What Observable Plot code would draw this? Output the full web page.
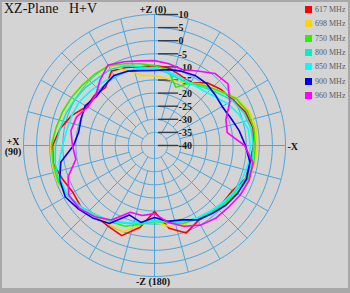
<!DOCTYPE html>
<html>
<head>
<meta charset="utf-8">
<script src="https://cdn.jsdelivr.net/npm/d3@7"></script>
<script src="https://cdn.jsdelivr.net/npm/@observablehq/plot@0.6"></script>
<style>
  html, body { margin: 0; padding: 0; background: #d4d4d4; }
  #wrap { position: relative; width: 350px; height: 293px; overflow: hidden; background: #d4d4d4; }
  #wrap svg { position: absolute; left: 0; top: 0; }
  #frame { position: absolute; left: 0; top: 0; width: 350px; height: 293px; box-sizing: border-box;
           border: 2px solid #a8a8a8; border-bottom-width: 5px; pointer-events: none; }
  #title { position: absolute; left: 4px; top: 1px; font: 14px "Liberation Serif", serif; color: #111; white-space: pre; }
  #legend { position: absolute; left: 305px; top: 6px; font: 8px "Liberation Serif", serif; color: #5c5c5c; }
  #legend .row { position: absolute; left: 0; height: 7px; white-space: nowrap; }
  #legend .sw { position: absolute; left: 0; top: 0; width: 7px; height: 7px; }
  #legend .lb { position: absolute; left: 10px; top: -1px; line-height: 9px; }
</style>
</head>
<body>
<div id="wrap">
  <div id="title">XZ-Plane   H+V</div>
  <div id="legend"></div>
  <div id="frame"></div>
</div>
<script>
// Measurement angles in degrees: 0 = +Z, 90 = +X, 180 = -Z, 270 = -X
const angles = d3.range(0, 360, 10);

// Gain (dB) per frequency, one value per angle
const gain617 = [-9.5, -9.5, -8.3, -7.2, -11.0, -10.2, -10.2, -6.4, -3.4, -1.1, -0.7, -2.6, -4.1, -3.4, -4.9, -4.5, -3.4, -8.3, -14.8, -7.9, -4.5, -6.8, -6.4, -6.0, -5.6, -3.0, -3.0, -2.2, -1.8, -3.0, -5.3, -6.8, -8.7, -12.5, -11.4, -9.8];
const gain698 = [-13.3, -12.9, -9.5, -4.9, -4.5, -4.1, -3.4, -2.6, -1.8, -0.3, -0.3, -0.3, -1.5, -3.0, -4.9, -5.3, -4.9, -9.5, -11.0, -8.7, -7.9, -7.6, -6.4, -5.3, -3.7, -1.8, -1.1, -0.7, -0.7, -1.5, -3.7, -7.6, -9.8, -12.5, -14.0, -14.0];
const gain750 = [-9.5, -8.3, -6.8, -4.9, -4.5, -4.1, -3.4, -2.6, -1.8, -0.7, -0.7, -0.7, -1.8, -3.4, -5.3, -6.4, -7.2, -9.5, -11.0, -10.2, -8.3, -7.6, -6.4, -5.3, -3.7, -2.2, -1.5, -1.5, -1.5, -2.2, -4.1, -7.6, -10.2, -12.5, -16.3, -10.6];
const gain800 = [-10.6, -9.5, -7.6, -6.4, -6.4, -5.6, -4.9, -4.1, -3.4, -2.2, -1.5, -1.1, -1.8, -3.4, -5.3, -6.8, -8.3, -9.8, -11.0, -10.6, -9.1, -7.9, -6.8, -5.6, -4.5, -3.0, -2.2, -2.2, -2.6, -3.7, -5.6, -8.7, -11.0, -12.9, -12.9, -11.8];
const gain850 = [-10.6, -10.2, -9.8, -9.5, -8.7, -7.9, -6.8, -6.4, -6.0, -4.9, -3.0, -1.8, -1.8, -3.4, -4.9, -6.8, -8.7, -10.2, -11.4, -10.6, -9.1, -7.9, -7.2, -6.0, -4.9, -4.1, -3.4, -3.4, -3.7, -5.6, -7.9, -10.6, -12.1, -12.5, -12.1, -11.4];
const gain900 = [-11.4, -11.0, -9.8, -9.1, -10.2, -11.0, -9.5, -10.2, -10.6, -9.1, -3.7, -1.5, -0.7, -2.2, -3.7, -5.6, -11.8, -10.2, -12.5, -10.6, -9.8, -7.2, -6.0, -4.5, -3.4, -2.6, -3.0, -5.3, -7.2, -9.1, -10.2, -9.8, -9.1, -9.1, -9.8, -10.6];
const gain960 = [-7.6, -7.2, -6.0, -4.5, -7.6, -10.6, -10.6, -8.3, -7.6, -8.7, -9.5, -4.9, -2.2, -2.6, -4.5, -7.2, -12.9, -12.9, -14.0, -10.2, -7.2, -4.9, -3.7, -3.2, -2.2, -1.5, -1.8, -5.6, -11.8, -11.0, -6.8, -3.4, -4.1, -7.2, -9.1, -8.3];

const freqLabels = ["617 MHz", "698 MHz", "750 MHz", "800 MHz", "850 MHz", "900 MHz", "960 MHz"];
const freqColors = ["#ff0000", "#ffd400", "#2cf000", "#00f0c8", "#00ffff", "#0000e6", "#ff00ff"];
const gains = [gain617, gain698, gain750, gain800, gain850, gain900, gain960];

// Radial scale rings (dB) and their printed labels
const ringValues = [-35, -30, -25, -20, -15, -10, -5, 0, 5, 10];
const ringLabels = [10, 5, 0, -5, -10, -15, -20, -25, -30, -35, -40];
const spokeAngles = d3.range(0, 360, 15);
const axisLabels = [
  {text: "+Z (0)", angle: 0},
  {text: "+X\n(90)", angle: 90},
  {text: "-Z (180)", angle: 180},
  {text: "-X", angle: 270}
];

const floorDb = -40;   // gain at the centre of the plot
const topDb = 10;      // gain at the outer ring
const rad = a => a * Math.PI / 180;
const rOf = g => g - floorDb;
const px = (g, a) => -rOf(g) * Math.sin(rad(a));
const py = (g, a) => rOf(g) * Math.cos(rad(a));
const span = topDb - floorDb;

const rows = gains.flatMap((vals, k) =>
  vals.map((g, i) => ({freq: freqLabels[k], angle: angles[i], gain: g})));

const ringPts = ringValues.flatMap(v => d3.range(0, 360, 2).map(a => ({v, a})));

const grid = "#4ea4dc";

const chart = Plot.plot({
  width: 350,
  height: 293,
  margin: 0,
  x: {domain: [-span, span], range: [23, 285], axis: null},
  y: {domain: [-span, span], range: [276, 14], axis: null},
  color: {domain: freqLabels, range: freqColors},
  style: {background: "transparent", overflow: "visible"},
  marks: [
    // concentric rings
    Plot.line(ringPts, {
      x: d => px(d.v, d.a), y: d => py(d.v, d.a), z: "v",
      curve: "linear-closed", stroke: grid, strokeWidth: 1
    }),
    // angular spokes every 15 degrees
    Plot.link(spokeAngles, {
      x1: a => px(a % 90 === 0 ? floorDb : a % 30 === 0 ? -35 : -30, a),
      y1: a => py(a % 90 === 0 ? floorDb : a % 30 === 0 ? -35 : -30, a),
      x2: a => px(topDb, a), y2: a => py(topDb, a),
      stroke: grid, strokeWidth: 1
    }),
    // scale ticks along the +Z axis
    Plot.ruleY(ringLabels, {y: v => rOf(v), x1: 1.5, x2: 9.2, stroke: "#2c3e52", strokeWidth: 1.4}),
    Plot.text(ringLabels, {
      y: v => rOf(v), x: 9.2, text: v => String(v), textAnchor: "start", dx: 0, dy: 0.5,
      fontFamily: "Liberation Serif", fontSize: 10, fontWeight: "bold", fill: "#1a1a1a"
    }),
    // radiation patterns
    Plot.line(rows, {
      x: d => px(d.gain, d.angle), y: d => py(d.gain, d.angle),
      z: "freq", stroke: "freq", curve: "linear-closed", strokeWidth: 1.6
    }),
    // axis direction labels
    Plot.text(axisLabels, {
      filter: d => d.angle === 0,
      x: d => px(topDb, d.angle), y: d => py(topDb, d.angle), text: "text",
      dx: -1.5, dy: -5, fontFamily: "Liberation Serif", fontSize: 10, fontWeight: "bold", fill: "#111"
    }),
    Plot.text(axisLabels, {
      filter: d => d.angle === 180,
      x: d => px(topDb, d.angle), y: d => py(topDb, d.angle), text: "text",
      dx: -1.5, dy: 5, fontFamily: "Liberation Serif", fontSize: 10, fontWeight: "bold", fill: "#111"
    }),
    Plot.text(axisLabels, {
      filter: d => d.angle === 90,
      x: d => px(topDb, d.angle), y: d => py(topDb, d.angle), text: "text",
      dx: -10.5, dy: 1, lineHeight: 1.0, fontFamily: "Liberation Serif", fontSize: 10, fontWeight: "bold", fill: "#111"
    }),
    Plot.text(axisLabels, {
      filter: d => d.angle === 270,
      x: d => px(topDb, d.angle), y: d => py(topDb, d.angle), text: "text",
      textAnchor: "start", dx: 2, dy: 1, fontFamily: "Liberation Serif", fontSize: 10, fontWeight: "bold", fill: "#111"
    })
  ]
});

const wrap = document.getElementById("wrap");
wrap.insertBefore(chart, document.getElementById("title"));

// legend
const legend = document.getElementById("legend");
freqLabels.forEach((f, i) => {
  const row = document.createElement("div");
  row.className = "row";
  row.style.top = (i * 14.3) + "px";
  row.innerHTML = `<span class="sw" style="background:${freqColors[i]}"></span><span class="lb">${f}</span>`;
  legend.appendChild(row);
});
</script>
</body>
</html>
